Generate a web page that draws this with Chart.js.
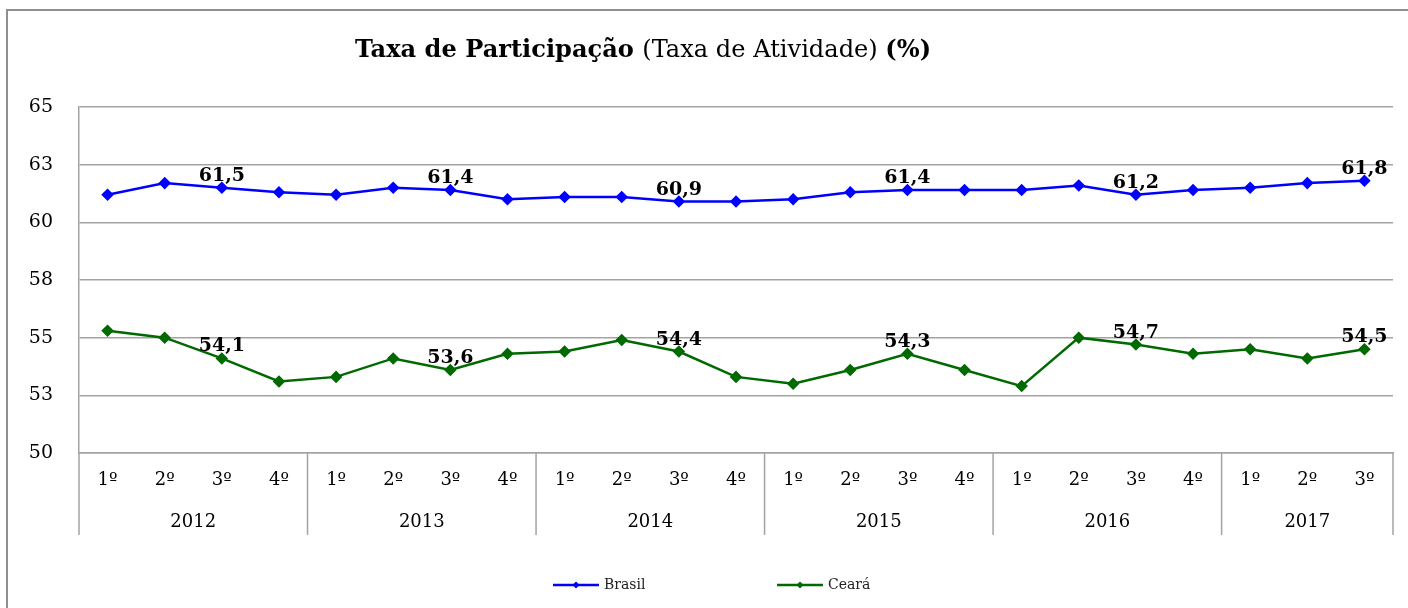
<!DOCTYPE html>
<html>
<head>
<meta charset="utf-8">
<script src="https://cdn.jsdelivr.net/npm/chart.js@4/dist/chart.umd.min.js"></script>
<style>
  html, body { margin: 0; padding: 0; background: #fff; }
  #wrap { width: 1408px; height: 608px; position: relative; }
</style>
</head>
<body>
<div id="wrap"><canvas id="taxa-chart"></canvas></div>
<script>
// Quarterly participation rate (%)
const quarters = [
  "1º", "2º", "3º", "4º",
  "1º", "2º", "3º", "4º",
  "1º", "2º", "3º", "4º",
  "1º", "2º", "3º", "4º",
  "1º", "2º", "3º", "4º",
  "1º", "2º", "3º",
];
const years = ["2012", "2013", "2014", "2015", "2016", "2017"];
const quartersPerYear = [4, 4, 4, 4, 4, 3];

const brasil = [
  61.2, 61.7, 61.5, 61.3,
  61.2, 61.5, 61.4, 61.0,
  61.1, 61.1, 60.9, 60.9,
  61.0, 61.3, 61.4, 61.4,
  61.4, 61.6, 61.2, 61.4,
  61.5, 61.7, 61.8,
];
const ceara = [
  55.3, 55.0, 54.1, 53.1,
  53.3, 54.1, 53.6, 54.3,
  54.4, 54.9, 54.4, 53.3,
  53.0, 53.6, 54.3, 53.6,
  52.9, 55.0, 54.7, 54.3,
  54.5, 54.1, 54.5,
];

// Excel-style rounded labels for ticks at 50, 52.5, ..., 65
const yTickLabels = ["50", "53", "55", "58", "60", "63", "65"];
// Points that carry a value label (3rd quarter of each year)
const labeledPoints = [2, 6, 10, 14, 18, 22];

const GRID = "#a3a3a3";
const SERIF = "'DejaVu Serif', serif";
const brasilColor = "#0000ff";
const cearaColor = "#006a00";

document.addEventListener("DOMContentLoaded", function () {
  const canvas = document.getElementById("taxa-chart");
  const ctx = canvas.getContext("2d");

  // Frame, title, year row, value labels and legend
  const decorPlugin = {
    id: "decor",
    afterDraw(chart) {
      const c = chart.ctx;
      const area = chart.chartArea;
      const xs = chart.scales.x;

      c.save();

      // outer frame (left and top edges)
      c.strokeStyle = "#8f8f8f";
      c.lineWidth = 2;
      c.beginPath();
      c.moveTo(7, 608);
      c.lineTo(7, 10);
      c.lineTo(1408, 10);
      c.stroke();

      // title with mixed weights, fitted to the reference width
      const parts = [
        { text: "Taxa de Participação ", bold: true },
        { text: "(Taxa de Atividade) ", bold: false },
        { text: "(%)", bold: true },
      ];
      let total = 0;
      parts.forEach(function (p) {
        c.font = (p.bold ? "bold " : "") + "22px " + SERIF;
        total += c.measureText(p.text).width;
      });
      const size = Math.min(26, 22 * 577 / total);
      let tx = 643.5 - (total * size / 22) / 2;
      c.fillStyle = "#000";
      c.textBaseline = "alphabetic";
      c.textAlign = "left";
      parts.forEach(function (p) {
        c.font = (p.bold ? "bold " : "") + size.toFixed(1) + "px " + SERIF;
        c.fillText(p.text, tx, 57);
        tx += c.measureText(p.text).width;
      });

      // category separators and year labels
      const axisBottom = 535;
      c.strokeStyle = GRID;
      c.lineWidth = 1.5;
      c.font = "18px " + SERIF;
      c.textAlign = "center";
      c.textBaseline = "middle";
      let start = 0;
      let leftEdge = area.left;
      c.beginPath();
      c.moveTo(area.left, area.bottom);
      c.lineTo(area.left, axisBottom);
      c.stroke();
      years.forEach(function (yr, i) {
        const end = start + quartersPerYear[i] - 1;
        let rightEdge;
        if (end + 1 < quarters.length) {
          rightEdge = (xs.getPixelForValue(end) + xs.getPixelForValue(end + 1)) / 2;
        } else {
          rightEdge = area.right;
        }
        c.beginPath();
        c.moveTo(rightEdge, area.bottom);
        c.lineTo(rightEdge, axisBottom);
        c.stroke();
        c.fillText(yr, (leftEdge + rightEdge) / 2, 522);
        leftEdge = rightEdge;
        start = end + 1;
      });

      // value labels
      c.font = "bold 19px " + SERIF;
      c.textAlign = "center";
      c.textBaseline = "alphabetic";
      c.fillStyle = "#000";
      chart.data.datasets.forEach(function (ds, di) {
        const meta = chart.getDatasetMeta(di);
        labeledPoints.forEach(function (idx) {
          const pt = meta.data[idx];
          const txt = ds.data[idx].toFixed(1).replace(".", ",");
          c.fillText(txt, pt.x, pt.y - 7);
        });
      });

      // legend
      const legendY = 585;
      const items = [
        { label: "Brasil", color: brasilColor, x: 553 },
        { label: "Ceará", color: cearaColor, x: 777 },
      ];
      c.font = "14px " + SERIF;
      c.textAlign = "left";
      c.textBaseline = "middle";
      items.forEach(function (it) {
        c.strokeStyle = it.color;
        c.lineWidth = 2.5;
        c.beginPath();
        c.moveTo(it.x, legendY);
        c.lineTo(it.x + 46, legendY);
        c.stroke();
        c.fillStyle = it.color;
        c.beginPath();
        c.moveTo(it.x + 23, legendY - 3.5);
        c.lineTo(it.x + 26.5, legendY);
        c.lineTo(it.x + 23, legendY + 3.5);
        c.lineTo(it.x + 19.5, legendY);
        c.closePath();
        c.fill();
        c.fillStyle = "#222";
        c.fillText(it.label, it.x + 51, legendY);
      });

      c.restore();
    },
  };

  const data = {
    labels: quarters,
    datasets: [
      {
        label: "Brasil",
        data: brasil,
        borderColor: brasilColor,
        backgroundColor: brasilColor,
        borderWidth: 2.5,
        pointStyle: "rectRot",
        pointRadius: 4.5,
        tension: 0,
      },
      {
        label: "Ceará",
        data: ceara,
        borderColor: cearaColor,
        backgroundColor: cearaColor,
        borderWidth: 2.5,
        pointStyle: "rectRot",
        pointRadius: 4.5,
        tension: 0,
      },
    ],
  };

  new Chart(ctx, {
    type: "line",
    data: data,
    plugins: [decorPlugin],
    options: {
      responsive: true,
      maintainAspectRatio: false,
      animation: false,
      layout: {
        padding: { top: 107, right: 15, left: 0, bottom: 0 },
      },
      plugins: {
        legend: { display: false },
        title: { display: false },
        tooltip: { enabled: false },
      },
      scales: {
        x: {
          offset: true,
          grid: { display: false, drawTicks: false },
          border: { display: true, color: GRID, width: 1.5 },
          ticks: {
            autoSkip: false,
            maxRotation: 0,
            padding: 17,
            color: "#000",
            font: { family: SERIF, size: 18 },
          },
          afterFit: function (scale) {
            scale.height = 155;
          },
        },
        y: {
          min: 50,
          max: 65,
          grid: { color: GRID, lineWidth: 1.5, drawTicks: false },
          border: { display: true, color: GRID, width: 1.5 },
          ticks: {
            stepSize: 2.5,
            padding: 26,
            color: "#000",
            font: { family: SERIF, size: 19 },
            callback: function (value, index) {
              return yTickLabels[index];
            },
          },
          afterFit: function (scale) {
            scale.width = 79;
          },
        },
      },
    },
  });
});
</script>
</body>
</html>
